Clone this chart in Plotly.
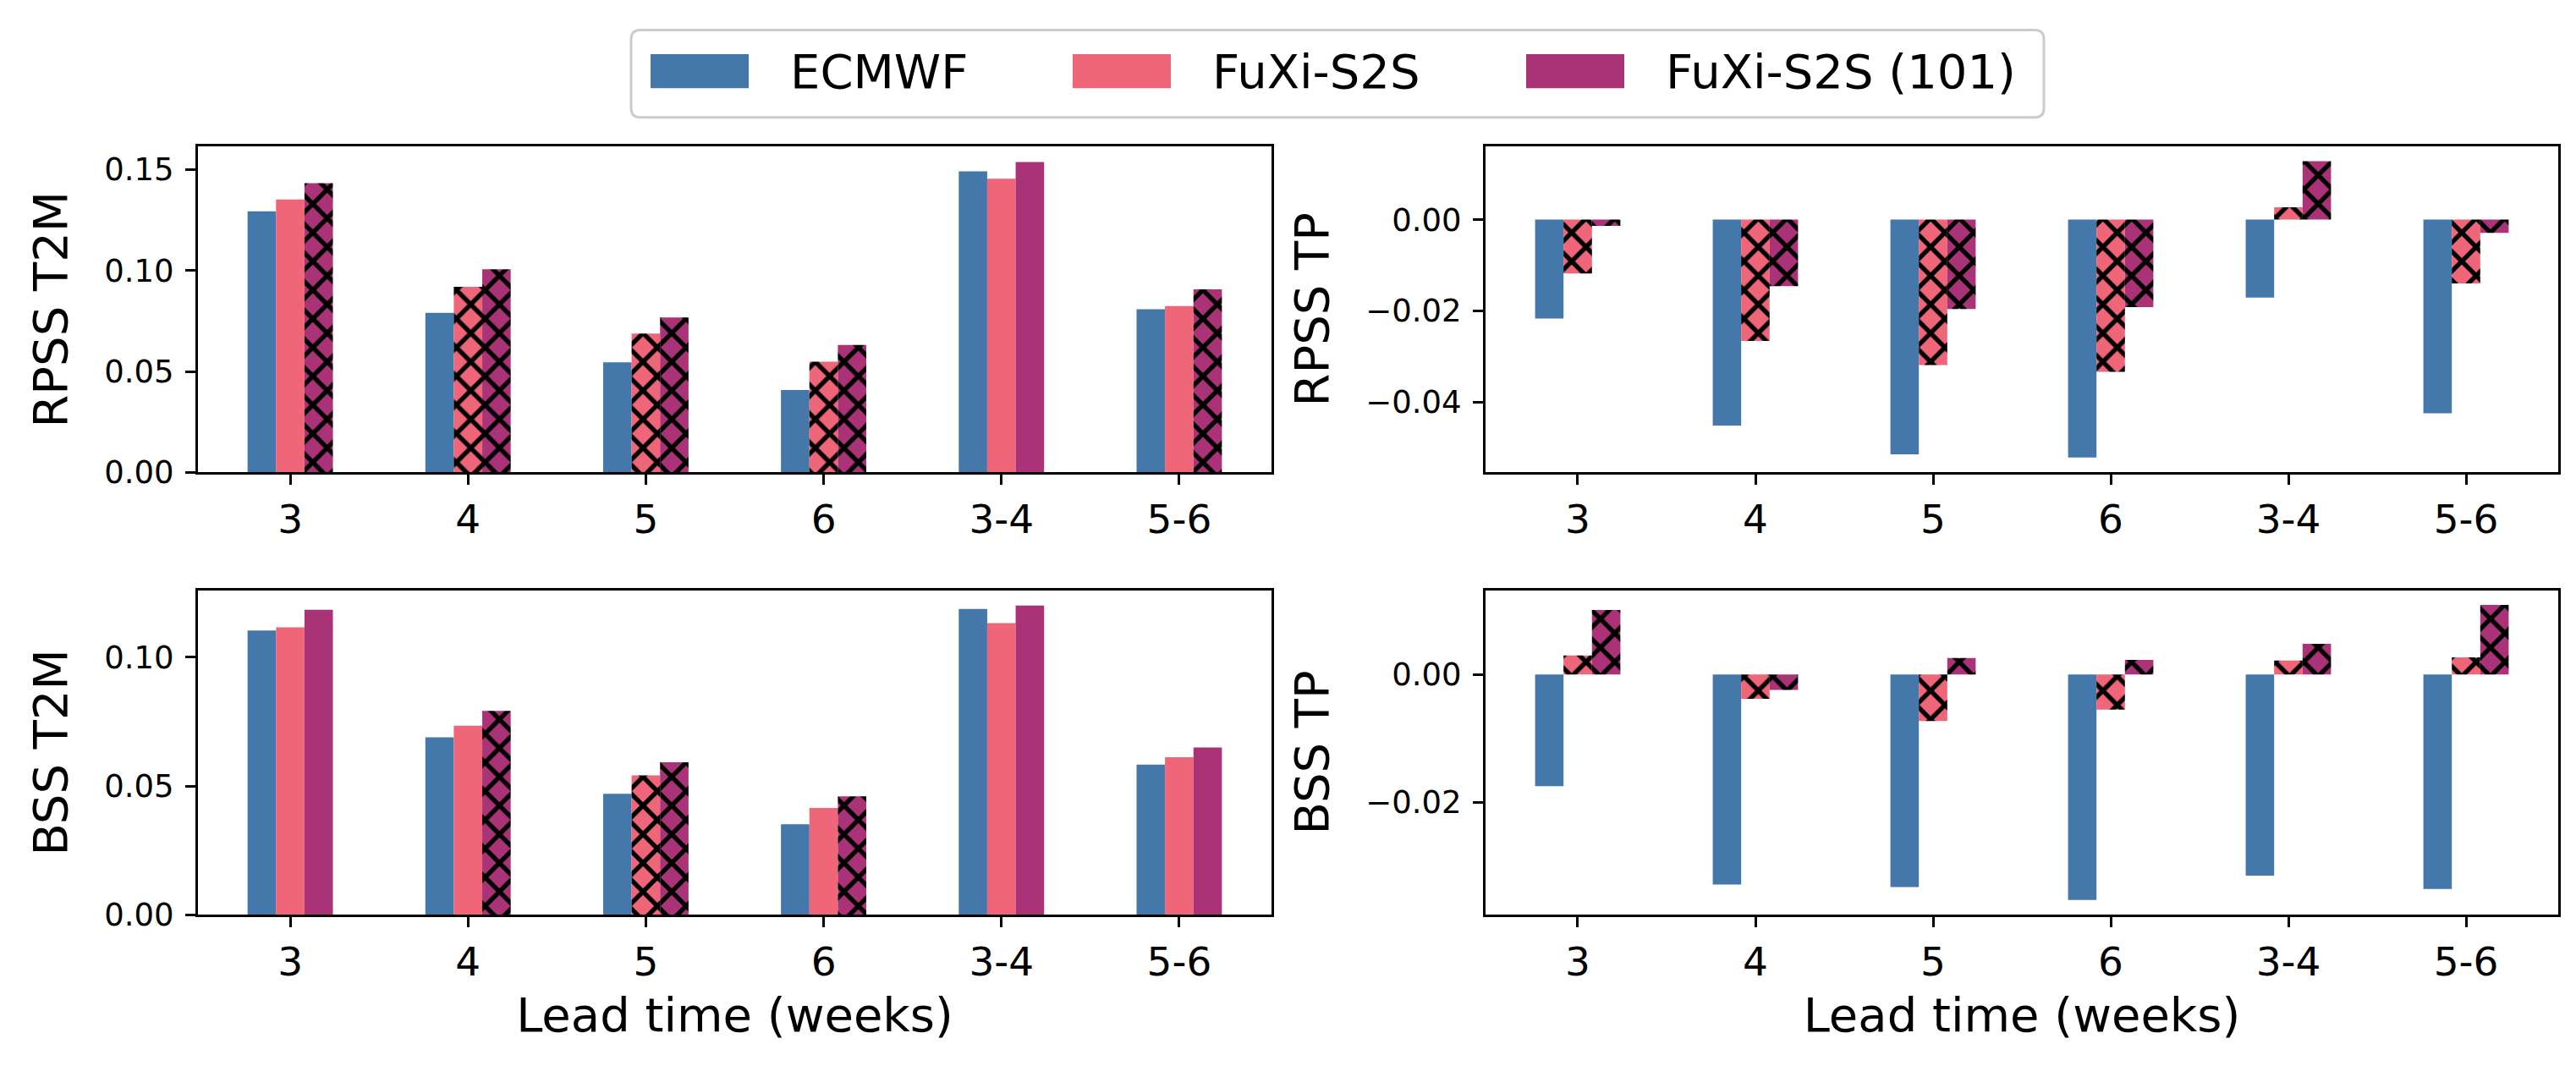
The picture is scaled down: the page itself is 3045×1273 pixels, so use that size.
import plotly.graph_objects as go

# ---------------- data ----------------
leads = ["3", "4", "5", "6", "3-4", "5-6"]
models = ["ECMWF", "FuXi-S2S", "FuXi-S2S (101)"]
colors = ["#4477AA", "#EE6677", "#AA3377"]

rpss_t2m_ecmwf = [0.1294, 0.0791, 0.0545, 0.0408, 0.1492, 0.0808]
rpss_t2m_fuxi = [0.1352, 0.0919, 0.0688, 0.0548, 0.1455, 0.0824]
rpss_t2m_fuxi101 = [0.1433, 0.1006, 0.0767, 0.0631, 0.1538, 0.0907]

rpss_tp_ecmwf = [-0.0217, -0.0452, -0.0515, -0.0522, -0.0171, -0.0425]
rpss_tp_fuxi = [-0.0118, -0.0266, -0.0319, -0.0334, 0.0027, -0.0140]
rpss_tp_fuxi101 = [-0.0014, -0.0146, -0.0196, -0.0192, 0.0128, -0.0029]

bss_t2m_ecmwf = [0.1104, 0.0689, 0.0470, 0.0351, 0.1188, 0.0583]
bss_t2m_fuxi = [0.1117, 0.0734, 0.0541, 0.0415, 0.1133, 0.0612]
bss_t2m_fuxi101 = [0.1185, 0.0792, 0.0592, 0.0460, 0.1201, 0.0650]

bss_tp_ecmwf = [-0.0175, -0.0329, -0.0333, -0.0353, -0.0315, -0.0336]
bss_tp_fuxi = [0.0030, -0.0038, -0.0073, -0.0055, 0.0022, 0.0027]
bss_tp_fuxi101 = [0.0101, -0.0024, 0.0026, 0.0023, 0.0048, 0.0109]

# significance flags (hatched bars)
sig_rpss_t2m_fuxi = [False, True, True, True, False, False]
sig_rpss_t2m_fuxi101 = [True, True, True, True, False, True]
sig_rpss_tp_fuxi = [True, True, True, True, True, True]
sig_rpss_tp_fuxi101 = [True, True, True, True, True, True]
sig_bss_t2m_fuxi = [False, False, True, False, False, False]
sig_bss_t2m_fuxi101 = [False, True, True, True, False, False]
sig_bss_tp_fuxi = [True, True, True, True, True, True]
sig_bss_tp_fuxi101 = [True, True, True, True, True, True]
no_sig = [False] * 6

y_titles = ["RPSS T2M", "RPSS TP", "BSS T2M", "BSS TP"]
y_tickvals = [
    [0.0, 0.05, 0.10, 0.15],
    [-0.04, -0.02, 0.0],
    [0.0, 0.05, 0.10],
    [-0.02, 0.0],
]

panels = [
    ([rpss_t2m_ecmwf, rpss_t2m_fuxi, rpss_t2m_fuxi101],
     [no_sig, sig_rpss_t2m_fuxi, sig_rpss_t2m_fuxi101]),
    ([rpss_tp_ecmwf, rpss_tp_fuxi, rpss_tp_fuxi101],
     [no_sig, sig_rpss_tp_fuxi, sig_rpss_tp_fuxi101]),
    ([bss_t2m_ecmwf, bss_t2m_fuxi, bss_t2m_fuxi101],
     [no_sig, sig_bss_t2m_fuxi, sig_bss_t2m_fuxi101]),
    ([bss_tp_ecmwf, bss_tp_fuxi, bss_tp_fuxi101],
     [no_sig, sig_bss_tp_fuxi, sig_bss_tp_fuxi101]),
]

# ---------------- layout geometry ----------------
W, H = 3045, 1273
FONT = "DejaVu Sans"


def fmt(v):
    s = f"{abs(v):.2f}"
    return ("\u2212" + s) if v < 0 else s


col_dom = [(226 / W, 1495 / W), (1748 / W, 3016 / W)]
row_dom = [(1 - 560 / H, 1 - 168 / H), (1 - 1092 / H, 1 - 701.7 / H)]

fig = go.Figure()
layout = {}

for i, (series, sigs) in enumerate(panels):
    r, c = divmod(i, 2)
    ax = "" if i == 0 else str(i + 1)
    for k in range(3):
        shapes = ["x" if s else "" for s in sigs[k]]
        fig.add_trace(go.Bar(
            x=leads, y=series[k], name=models[k],
            xaxis="x" + ax, yaxis="y" + ax,
            marker=dict(color=colors[k], line=dict(width=0),
                        pattern=dict(shape=shapes, fgcolor="black", bgcolor=colors[k],
                                     size=24, solidity=0.4, fillmode="replace")),
            showlegend=False,
        ))
    allv = [v for s in series for v in s]
    lo, hi = min(0.0, min(allv)), max(0.0, max(allv))
    span = hi - lo
    ylo = lo - 0.05 * span if lo < 0 else 0.0
    yhi = hi + 0.05 * span if hi > 0 else 0.0

    common = dict(showline=True, linecolor="black", linewidth=3, mirror=True,
                  ticks="outside", ticklen=12, tickwidth=3, tickcolor="black",
                  showgrid=False, zeroline=False)
    layout["xaxis" + ax] = dict(
        domain=col_dom[c], anchor="y" + ax, type="category",
        range=[-0.519, len(leads) - 1 + 0.519],
        tickfont=dict(family=FONT, size=47, color="black"),
        title=dict(text="Lead time (weeks)" if r == 1 else "",
                   font=dict(family=FONT, size=56, color="black"), standoff=18),
        **common)
    layout["yaxis" + ax] = dict(
        domain=row_dom[r], anchor="x" + ax, range=[ylo, yhi],
        tickvals=y_tickvals[i], ticktext=[fmt(v) for v in y_tickvals[i]],
        tickfont=dict(family=FONT, size=37, color="black"),
        ticklabelstandoff=6,
        title=dict(text=y_titles[i], font=dict(family=FONT, size=56, color="black"), standoff=26),
        **common)

# ---------------- manual legend (matplotlib style) ----------------
def X(px):
    return px / W


def Y(py):
    return 1 - py / H


def rrect(x0, y0, x1, y1, r):
    return (f"M {X(x0 + r)},{Y(y0)} L {X(x1 - r)},{Y(y0)} Q {X(x1)},{Y(y0)} {X(x1)},{Y(y0 + r)} "
            f"L {X(x1)},{Y(y1 - r)} Q {X(x1)},{Y(y1)} {X(x1 - r)},{Y(y1)} "
            f"L {X(x0 + r)},{Y(y1)} Q {X(x0)},{Y(y1)} {X(x0)},{Y(y1 - r)} "
            f"L {X(x0)},{Y(y0 + r)} Q {X(x0)},{Y(y0)} {X(x0 + r)},{Y(y0)} Z")


shapes = [dict(type="path", xref="paper", yref="paper",
               path=rrect(738, 28, 2408, 133, 11),
               line=dict(color="#cccccc", width=3), fillcolor="rgba(255,255,255,0.8)")]
annotations = []
patch_x = [761, 1260, 1796]
for k in range(3):
    shapes.append(dict(type="rect", xref="paper", yref="paper",
                       x0=X(patch_x[k]), x1=X(patch_x[k] + 116), y0=Y(98), y1=Y(57),
                       line=dict(width=0), fillcolor=colors[k]))
    annotations.append(dict(xref="paper", yref="paper", x=X(patch_x[k] + 116 + 47), y=Y(78),
                            xanchor="left", yanchor="middle", showarrow=False, text=models[k],
                            font=dict(family=FONT, size=56, color="black")))

fig.update_layout(
    width=W, height=H,
    margin=dict(l=0, r=0, t=0, b=0),
    paper_bgcolor="white", plot_bgcolor="white",
    barmode="group", bargap=0.52, bargroupgap=0,
    shapes=shapes, annotations=annotations,
    font=dict(family=FONT, color="black"),
    **layout,
)

fig.write_html("out.html")
